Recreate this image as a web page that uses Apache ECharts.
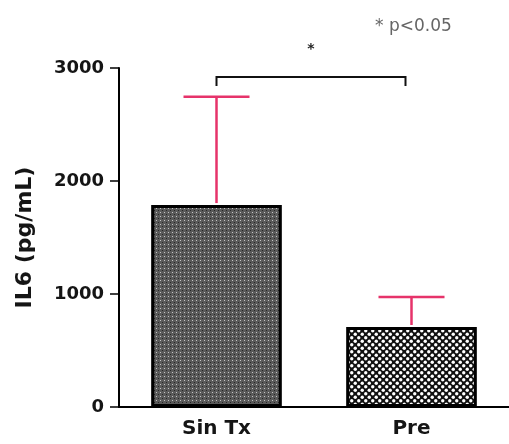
<!DOCTYPE html>
<html><head><meta charset="utf-8">
<script src="https://cdn.jsdelivr.net/npm/echarts@6/dist/echarts.min.js"></script>
<style>html,body{margin:0;padding:0;background:#fff}#c{width:509px;height:444px}</style>
</head><body><div id="c"></div>
<script>
const categories = ['Sin Tx', 'Pre'];
const means = [1787, 708];
const upperErr = [2745, 973];
const yTicks = [0, 1000, 2000, 3000];
const bracket = { from: 0, to: 1, top: 2920, foot: 2840, label: '*' };
const noteText = '* p<0.05';

const FONT = 'DejaVu Sans, Verdana, sans-serif';

function makePattern(kind) {
  const c = document.createElement('canvas');
  const ctx = c.getContext('2d');
  if (kind === 0) {
    c.width = 4; c.height = 4;
    ctx.fillStyle = '#5a5a5a'; ctx.fillRect(0, 0, 4, 4);
    ctx.fillStyle = '#c4c4c4'; ctx.fillRect(0, 0, 1, 1);
    ctx.fillStyle = '#262626'; ctx.fillRect(2, 2, 1, 1);
  } else {
    c.width = 7; c.height = 7;
    ctx.fillStyle = '#111'; ctx.fillRect(0, 0, 7, 7);
    ctx.fillStyle = '#fff';
    [[1.75, 1.75], [5.25, 5.25]].forEach(p => {
      ctx.beginPath(); ctx.arc(p[0], p[1], 1.7, 0, Math.PI * 2); ctx.fill();
    });
  }
  return c;
}

const chart = echarts.init(document.getElementById('c'));
const option = {
  animation: false,
  grid: { left: 119, right: 0, top: 68, bottom: 37 },
  xAxis: {
    type: 'category', data: categories,
    axisLine: { lineStyle: { color: '#000', width: 2 } },
    axisTick: { alignWithLabel: true, length: 6, lineStyle: { color: '#000', width: 1.5 } },
    axisLabel: { color: '#151515', fontSize: 20, fontWeight: 'bold', fontFamily: FONT, margin: 12 }
  },
  yAxis: {
    type: 'value', min: 0, max: 3000, interval: 1000,
    name: 'IL6 (pg/mL)', nameLocation: 'middle', nameGap: 83,
    nameTextStyle: { color: '#151515', fontSize: 22, fontWeight: 'bold', fontFamily: FONT },
    axisLine: { show: true, lineStyle: { color: '#000', width: 2 } },
    axisTick: { show: true, length: 9, lineStyle: { color: '#000', width: 1.5 } },
    splitLine: { show: false },
    axisLabel: { color: '#151515', fontSize: 18, fontWeight: 'bold', fontFamily: FONT, margin: 15,
      formatter: v => yTicks.includes(v) ? String(v) : '' }
  },
  series: [
    {
      type: 'bar', barWidth: '67%',
      data: means.map((v, i) => ({
        value: v,
        itemStyle: { color: { image: makePattern(i), repeat: 'repeat' }, borderColor: '#000', borderWidth: 3 }
      })),
      z: 2
    },
    {
      type: 'custom', z: 5,
      data: means.map((m, i) => [i, m, upperErr[i]]),
      renderItem: (params, api) => {
        const i = api.value(0);
        const p0 = api.coord([i, api.value(1)]);
        const p1 = api.coord([i, api.value(2)]);
        const hw = 33;
        const st = { stroke: '#e6336a', lineWidth: 2.5 };
        return { type: 'group', children: [
          { type: 'line', shape: { x1: p0[0], y1: p0[1] - 2, x2: p1[0], y2: p1[1] }, style: st },
          { type: 'line', shape: { x1: p1[0] - hw, y1: p1[1], x2: p1[0] + hw, y2: p1[1] }, style: st }
        ]};
      }
    },
    {
      type: 'custom', z: 5,
      data: [[bracket.from, bracket.to, bracket.top, bracket.foot]],
      renderItem: (params, api) => {
        const a = api.coord([api.value(0), api.value(2)]);
        const b = api.coord([api.value(1), api.value(2)]);
        const af = api.coord([api.value(0), api.value(3)]);
        return { type: 'group', children: [
          { type: 'polyline', shape: { points: [[a[0], af[1]], [a[0], a[1]], [b[0] - 6, b[1]], [b[0] - 6, af[1]]] },
            style: { stroke: '#111', lineWidth: 2, fill: null } },
          { type: 'text', style: { x: (a[0] + b[0]) / 2 - 3, y: a[1] - 28, text: bracket.label, fill: '#222',
            font: 'bold 14px ' + FONT, align: 'center', verticalAlign: 'middle' } }
        ]};
      }
    }
  ],
  graphic: [
    { type: 'text', left: 375, top: 18, style: { text: noteText, fill: '#666', font: '17px ' + FONT } }
  ]
};
chart.setOption(option);
</script></body></html>
